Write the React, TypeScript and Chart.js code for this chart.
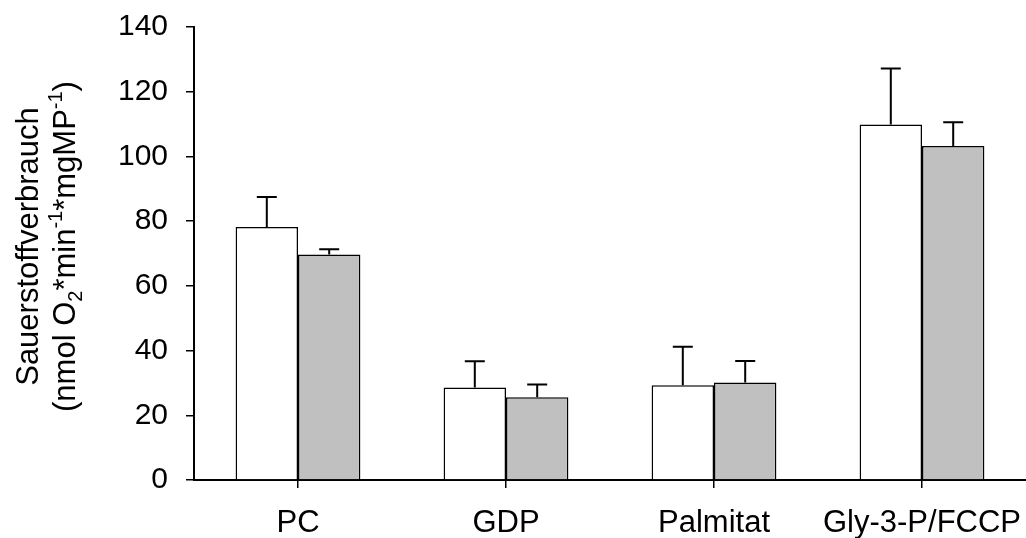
import React, { useEffect, useRef } from "react";
import { Chart, registerables } from "chart.js";

Chart.register(...registerables);

const categories = ["PC", "GDP", "Palmitat", "Gly-3-P/FCCP"];
const seriesA = [78.2, 28.6, 29.3, 109.9];
const errorsA = [9.3, 8.1, 11.9, 17.3];
const seriesB = [69.7, 25.6, 30.1, 103.2];
const errorsB = [1.6, 3.9, 6.7, 7.4];
const yTicks = [0, 20, 40, 60, 80, 100, 120, 140];
const titleLine1 = "Sauerstoffverbrauch";
const titleLine2 = [
  { t: "(nmol O", k: "n" },
  { t: "2", k: "sub" },
  { t: "*min", k: "n" },
  { t: "-1", k: "sup" },
  { t: "*mgMP", k: "n" },
  { t: "-1", k: "sup" },
  { t: ")", k: "n" },
];

const FONT = "'Liberation Sans', Arial, sans-serif";

const errorBarPlugin = {
  id: "errorBars",
  afterDatasetsDraw(chart: any) {
    const ctx = chart.ctx;
    const yScale = chart.scales.y;
    const errs = [errorsA, errorsB];
    chart.data.datasets.forEach((ds: any, di: number) => {
      const meta = chart.getDatasetMeta(di);
      meta.data.forEach((bar: any, i: number) => {
        const v = ds.data[i] + errs[di][i];
        const yTop = yScale.getPixelForValue(v);
        ctx.save();
        ctx.strokeStyle = "#000";
        ctx.lineWidth = 2;
        ctx.beginPath();
        ctx.moveTo(bar.x, bar.y);
        ctx.lineTo(bar.x, yTop);
        ctx.moveTo(bar.x - 10, yTop);
        ctx.lineTo(bar.x + 10, yTop);
        ctx.stroke();
        ctx.restore();
      });
    });
  },
};

const yTitlePlugin = {
  id: "yTitle",
  afterDraw(chart: any) {
    const ctx = chart.ctx;
    const area = chart.chartArea;
    const cy = (area.top + area.bottom) / 2 - 7;
    const size = 31;
    const small = 20;
    ctx.save();
    ctx.fillStyle = "#000";
    ctx.textBaseline = "alphabetic";
    ctx.translate(38, cy);
    ctx.rotate(-Math.PI / 2);
    ctx.font = `${size}px ${FONT}`;
    ctx.textAlign = "center";
    ctx.fillText(titleLine1, 0, 0);
    ctx.restore();

    ctx.save();
    ctx.fillStyle = "#000";
    ctx.textBaseline = "alphabetic";
    ctx.translate(75, cy);
    ctx.rotate(-Math.PI / 2);
    ctx.textAlign = "left";
    let total = 0;
    titleLine2.forEach((s) => {
      ctx.font = `${s.k === "n" ? size : small}px ${FONT}`;
      total += ctx.measureText(s.t).width;
    });
    let x = -total / 2;
    titleLine2.forEach((s) => {
      ctx.font = `${s.k === "n" ? size : small}px ${FONT}`;
      const dy = s.k === "sub" ? 7 : s.k === "sup" ? -13 : 0;
      ctx.fillText(s.t, x, dy);
      x += ctx.measureText(s.t).width;
    });
    ctx.restore();
  },
};

export default function App() {
  const ref = useRef<HTMLCanvasElement>(null);
  useEffect(() => {
    if (!ref.current) return;
    const chart = new Chart(ref.current, {
      type: "bar",
      data: {
        labels: categories,
        datasets: [
          {
            data: seriesA,
            backgroundColor: "#ffffff",
            borderColor: "#000000",
            borderWidth: 1.5,
            categoryPercentage: 0.6,
            barPercentage: 1.0,
          },
          {
            data: seriesB,
            backgroundColor: "#c0c0c0",
            borderColor: "#000000",
            borderWidth: 1.5,
            categoryPercentage: 0.6,
            barPercentage: 1.0,
          },
        ],
      },
      options: {
        animation: false,
        responsive: false,
        maintainAspectRatio: false,
        layout: { padding: { top: 27, right: 0, left: 0, bottom: 0 } },
        plugins: {
          legend: { display: false },
          tooltip: { enabled: false },
          title: { display: false },
        },
        scales: {
          x: {
            offset: true,
            grid: {
              display: true,
              drawOnChartArea: false,
              drawTicks: true,
              tickLength: 8,
              offset: false,
              color: "#000",
              lineWidth: 1.5,
            },
            border: { display: true, color: "#000", width: 2 },
            ticks: {
              color: "#000",
              font: { family: FONT, size: 31 },
              padding: 17,
              maxRotation: 0,
              autoSkip: false,
            },
            afterFit(scale: any) {
              scale.height = 58;
              scale.paddingLeft = 0;
              scale.paddingRight = 0;
            },
          },
          y: {
            min: 0,
            max: 140,
            afterBuildTicks(scale: any) {
              scale.ticks = yTicks.map((v) => ({ value: v }));
            },
            grid: {
              display: true,
              drawOnChartArea: false,
              drawTicks: true,
              tickLength: 8,
              color: "#000",
              lineWidth: 1.5,
            },
            border: { display: true, color: "#000", width: 2 },
            ticks: {
              color: "#000",
              font: { family: FONT, size: 30 },
              padding: 18,
            },
            afterFit(scale: any) {
              scale.width = 194;
              scale.paddingTop = 0;
              scale.paddingBottom = 0;
            },
          },
        },
      },
      plugins: [errorBarPlugin, yTitlePlugin],
    });
    return () => chart.destroy();
  }, []);
  return (
    <div style={{ position: "fixed", left: 0, top: 0, width: 1026, height: 538, background: "#fff" }}>
      <canvas ref={ref} width={1026} height={538} style={{ width: 1026, height: 538, display: "block" }} />
    </div>
  );
}
